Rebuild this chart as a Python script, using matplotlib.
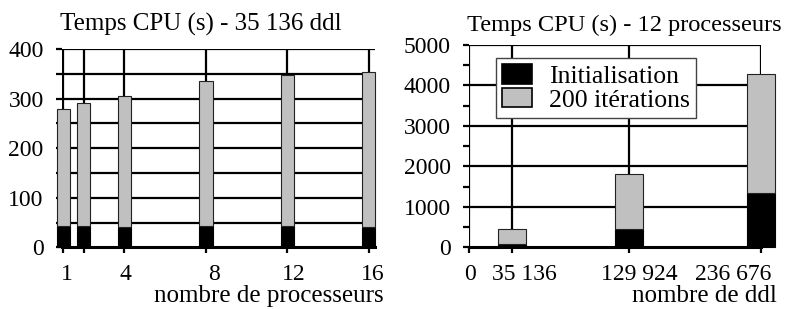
import numpy as np
import matplotlib.pyplot as plt
from matplotlib.transforms import ScaledTranslation

plt.rcParams["font.family"] = ["Liberation Serif", "DejaVu Serif"]
plt.rcParams["font.size"] = 17

# --- left: 35 136 ddl, vs number of processors ---
procs = [1, 2, 4, 8, 12, 16]
proc_labels = ["1", "", "4", "8", "12", "16"]
init_p = [43, 44, 40, 44, 43, 40]
total_p = [279, 292, 305, 336, 347, 353]
iter_p = [t - i for t, i in zip(total_p, init_p)]

# --- right: 12 processors, vs number of dof ---
ddl = [35136, 129924, 236676]
ddl_labels = ["35 136", "129 924", "236 676"]
init_d = [90, 461, 1351]
total_d = [445, 1820, 4283]
iter_d = [t - i for t, i in zip(total_d, init_d)]

GRAY = "#c0c0c0"
LW = 1.6

fig = plt.figure(figsize=(7.93, 3.09), dpi=100)
ax1 = fig.add_axes([0.0778, 0.1997, 0.395, 0.641])
ax2 = fig.add_axes([0.5914, 0.1997, 0.368, 0.6547])

def frame(ax):
    for s in ax.spines.values():
        s.set_visible(False)
    ax.set_axisbelow(True)
    ax.tick_params(which="both", direction="out", length=4, width=LW)
    ax.tick_params(axis="x", pad=8)
    ax.tick_params(axis="y", pad=9)

def nudge(ax, shifts_px):
    # hand-placed labels in the original sit a little off their ticks
    for lab, dx in zip(ax.get_xticklabels(), shifts_px):
        lab.set_transform(lab.get_transform() + ScaledTranslation(dx / 100, 0, fig.dpi_scale_trans))

# left panel
frame(ax1)
ax1.bar(procs, init_p, width=0.65, color="black", edgecolor="black", lw=0.8,
        clip_on=False, zorder=3)
ax1.bar(procs, iter_p, bottom=init_p, width=0.65, color=GRAY, edgecolor="#222222",
        lw=0.8, clip_on=False, zorder=3)
ax1.set_xlim(0.92, 16.3)
ax1.set_ylim(0, 400)
ax1.set_xticks(procs)
ax1.set_xticklabels(proc_labels)
ax1.set_yticks(np.arange(0, 401, 100))
ax1.set_yticks(np.arange(0, 401, 50), minor=True)
for y in np.arange(50, 401, 50):
    ax1.axhline(y, color="black", lw=LW, zorder=1)
for x in procs:
    ax1.axvline(x, color="black", lw=LW, zorder=1)
ax1.axhline(0, color="black", lw=2.2, zorder=4, clip_on=False)
nudge(ax1, [4, 0, 1, 8, 6, 4])

# right panel
frame(ax2)
w = 23000
ax2.bar(ddl, init_d, width=w, color="black", edgecolor="black", lw=0.8,
        clip_on=False, zorder=3, label="Initialisation")
ax2.bar(ddl, iter_d, bottom=init_d, width=w, color=GRAY, edgecolor="#222222",
        lw=0.8, clip_on=False, zorder=3, label="200 itérations")
ax2.set_xlim(0, 236676)
ax2.set_ylim(0, 5000)
ax2.set_xticks([0] + ddl)
ax2.set_xticklabels(["0"] + ddl_labels)
ax2.set_yticks(np.arange(0, 5001, 1000))
ax2.set_yticks(np.arange(0, 5001, 500), minor=True)
for y in np.arange(1000, 5001, 1000):
    ax2.axhline(y, color="black", lw=LW, zorder=1)
for x in [0] + ddl:
    ax2.axvline(x, color="black", lw=LW, zorder=1)
ax2.axhline(0, color="black", lw=2.2, zorder=4, clip_on=False)
nudge(ax2, [1, 12, 10, -28])

leg = ax2.legend(loc="upper left", bbox_to_anchor=(0.092, 0.936), borderaxespad=0,
                 fontsize=18.5, fancybox=False, framealpha=1, edgecolor="#444444",
                 handlelength=1.17, handleheight=0.78, handletextpad=0.65,
                 labelspacing=0.0, borderpad=0.25)
leg.get_frame().set_linewidth(1.0)
leg.set_zorder(5)
for h in leg.legend_handles:
    h.set_edgecolor("black")
    h.set_linewidth(1.2)

fig.text(60 / 793, 1 - 31 / 309, "Temps CPU (s) - 35 136 ddl", ha="left", va="baseline", fontsize=18)
fig.text(467 / 793, 1 - 31 / 309, "Temps CPU (s) - 12 processeurs", ha="left", va="baseline", fontsize=17.6)
fig.text(384 / 793, 1 - 302 / 309, "nombre de processeurs", ha="right", va="baseline", fontsize=18)
fig.text(777 / 793, 1 - 302 / 309, "nombre de ddl", ha="right", va="baseline", fontsize=18)

fig.savefig("out.png", dpi=100)
